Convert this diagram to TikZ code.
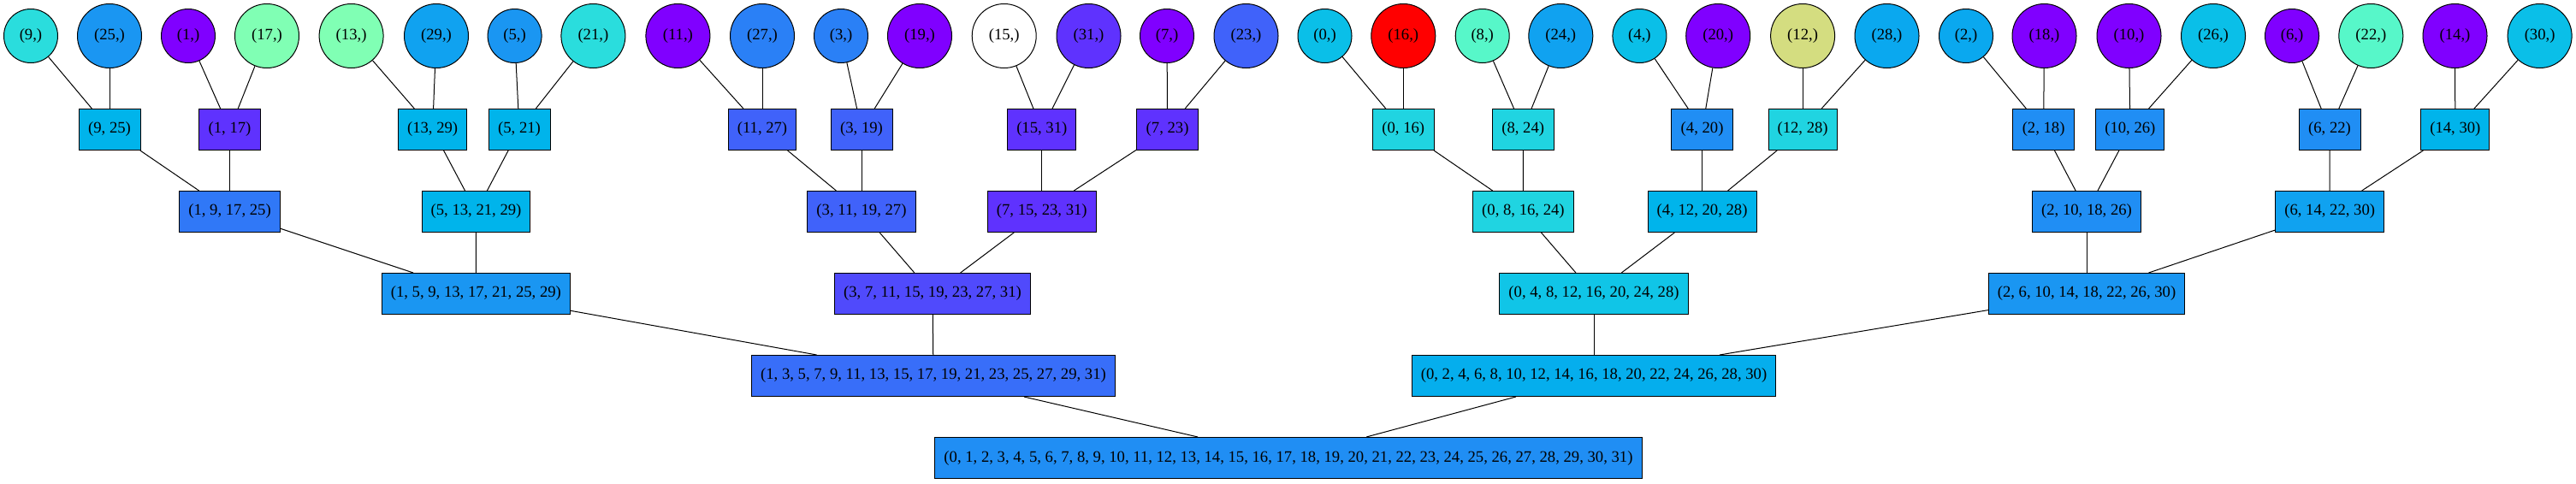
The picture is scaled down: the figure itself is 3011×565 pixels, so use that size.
\documentclass[tikz,border=0pt]{standalone}
\usepackage{fontspec}
\setmainfont{Liberation Serif}
\definecolor{cpur}{HTML}{8000FF}
\definecolor{cA}{HTML}{5F32FE}
\definecolor{cB}{HTML}{504AFC}
\definecolor{cC}{HTML}{4062FA}
\definecolor{cD}{HTML}{386EF9}
\definecolor{cE}{HTML}{3078F7}
\definecolor{cF}{HTML}{2A80F6}
\definecolor{cG}{HTML}{208EF4}
\definecolor{cH}{HTML}{1A96F2}
\definecolor{cI}{HTML}{10A2F0}
\definecolor{cJ}{HTML}{0AA8EF}
\definecolor{cK}{HTML}{05AEED}
\definecolor{cL}{HTML}{00B4EB}
\definecolor{cM}{HTML}{0ABFE8}
\definecolor{cN}{HTML}{10C5E7}
\definecolor{cO}{HTML}{20D4E1}
\definecolor{cP}{HTML}{2ADDDD}
\definecolor{cQ}{HTML}{57F7C9}
\definecolor{cR}{HTML}{80FFB4}
\definecolor{cS}{HTML}{D4DD80}
\definecolor{cred}{HTML}{FF0000}
\tikzset{
  leaf/.style={circle, draw=black, line width=0.75pt, minimum size=47.25pt, inner sep=0pt},
  leafw/.style={leaf, minimum size=56.25pt},
  box/.style={rectangle, draw=black, line width=0.75pt, minimum width=54pt, minimum height=36pt, inner xsep=7.9pt, inner ysep=0pt},
  edge/.style={draw=black, line width=0.75pt}
}
\begin{document}
\begin{tikzpicture}[x=0.75pt, y=-0.75pt, font=\fontsize{14pt}{16pt}\selectfont]
\useasboundingbox (0,0) rectangle (3011,565);
% leaves
\node[leaf, fill=cP] (l9) at (36,42) {(9,)};
\node[leafw, fill=cH] (l25) at (128,42) {(25,)};
\node[leaf, fill=cpur] (l1) at (220,42) {(1,)};
\node[leafw, fill=cR] (l17) at (312,42) {(17,)};
\node[leafw, fill=cR] (l13) at (410.6,42) {(13,)};
\node[leafw, fill=cI] (l29) at (510,42) {(29,)};
\node[leaf, fill=cH] (l5) at (601.6,42) {(5,)};
\node[leafw, fill=cP] (l21) at (693.4,42) {(21,)};
\node[leafw, fill=cpur] (l11) at (792.4,42) {(11,)};
\node[leafw, fill=cF] (l27) at (891,42) {(27,)};
\node[leaf, fill=cF] (l3) at (983,42) {(3,)};
\node[leafw, fill=cpur] (l19) at (1075,42) {(19,)};
\node[leafw, fill=white] (l15) at (1173.7,42) {(15,)};
\node[leafw, fill=cA] (l31) at (1272.5,42) {(31,)};
\node[leaf, fill=cpur] (l7) at (1364,42) {(7,)};
\node[leafw, fill=cC] (l23) at (1456.5,42) {(23,)};
\node[leaf, fill=cM] (l0) at (1548.5,42) {(0,)};
\node[leafw, fill=cred] (l16) at (1640.3,42) {(16,)};
\node[leaf, fill=cQ] (l8) at (1732.7,42) {(8,)};
\node[leafw, fill=cI] (l24) at (1824.3,42) {(24,)};
\node[leaf, fill=cM] (l4) at (1916.4,42) {(4,)};
\node[leafw, fill=cpur] (l20) at (2008.2,42) {(20,)};
\node[leafw, fill=cS] (l12) at (2107.1,42) {(12,)};
\node[leafw, fill=cJ] (l28) at (2205.5,42) {(28,)};
\node[leaf, fill=cJ] (l2) at (2298,42) {(2,)};
\node[leafw, fill=cpur] (l18) at (2389.5,42) {(18,)};
\node[leafw, fill=cpur] (l10) at (2488.5,42) {(10,)};
\node[leafw, fill=cM] (l26) at (2587,42) {(26,)};
\node[leaf, fill=cpur] (l6) at (2679,42) {(6,)};
\node[leafw, fill=cQ] (l22) at (2771.3,42) {(22,)};
\node[leafw, fill=cpur] (l14) at (2869.5,42) {(14,)};
\node[leafw, fill=cM] (l30) at (2968.6,42) {(30,)};
% level 1
\node[box, fill=cL] (a925) at (128,151.5) {(9, 25)};
\node[box, fill=cA] (a117) at (268.5,151.5) {(1, 17)};
\node[box, fill=cL] (a1329) at (505.6,151.5) {(13, 29)};
\node[box, fill=cL] (a521) at (607,151.5) {(5, 21)};
\node[box, fill=cC] (a1127) at (891,151.5) {(11, 27)};
\node[box, fill=cC] (a319) at (1007,151.5) {(3, 19)};
\node[box, fill=cA] (a1531) at (1217.8,151.5) {(15, 31)};
\node[box, fill=cA] (a723) at (1364.6,151.5) {(7, 23)};
\node[box, fill=cO] (a016) at (1640.3,151.5) {(0, 16)};
\node[box, fill=cO] (a824) at (1780.2,151.5) {(8, 24)};
\node[box, fill=cG] (a420) at (1989.6,151.5) {(4, 20)};
\node[box, fill=cO] (a1228) at (2107.1,151.5) {(12, 28)};
\node[box, fill=cG] (a218) at (2388.6,151.5) {(2, 18)};
\node[box, fill=cG] (a1026) at (2489.8,151.5) {(10, 26)};
\node[box, fill=cG] (a622) at (2723,151.5) {(6, 22)};
\node[box, fill=cL] (a1430) at (2869.8,151.5) {(14, 30)};
% level 2
\node[box, fill=cE] (b1) at (268.5,247.5) {(1, 9, 17, 25)};
\node[box, fill=cL] (b5) at (556.5,247.5) {(5, 13, 21, 29)};
\node[box, fill=cC] (b3) at (1007,247.5) {(3, 11, 19, 27)};
\node[box, fill=cA] (b7) at (1217.8,247.5) {(7, 15, 23, 31)};
\node[box, fill=cO] (b0) at (1780.4,247.5) {(0, 8, 16, 24)};
\node[box, fill=cL] (b4) at (1989.6,247.5) {(4, 12, 20, 28)};
\node[box, fill=cG] (b2) at (2439,247.5) {(2, 10, 18, 26)};
\node[box, fill=cI] (b6) at (2723.2,247.5) {(6, 14, 22, 30)};
% level 3
\node[box, fill=cH] (c1) at (556.4,343.5) {(1, 5, 9, 13, 17, 21, 25, 29)};
\node[box, fill=cB] (c3) at (1090,343.5) {(3, 7, 11, 15, 19, 23, 27, 31)};
\node[box, fill=cN] (c0) at (1863,343.5) {(0, 4, 8, 12, 16, 20, 24, 28)};
\node[box, fill=cH] (c2) at (2439,343.5) {(2, 6, 10, 14, 18, 22, 26, 30)};
% level 4
\node[box, fill=cD] (d1) at (1091,439.5) {(1, 3, 5, 7, 9, 11, 13, 15, 17, 19, 21, 23, 25, 27, 29, 31)};
\node[box, fill=cK] (d0) at (1863,439.5) {(0, 2, 4, 6, 8, 10, 12, 14, 16, 18, 20, 22, 24, 26, 28, 30)};
% root
\node[box, fill=cG] (root) at (1506,535.5) {(0, 1, 2, 3, 4, 5, 6, 7, 8, 9, 10, 11, 12, 13, 14, 15, 16, 17, 18, 19, 20, 21, 22, 23, 24, 25, 26, 27, 28, 29, 30, 31)};
% edges
\foreach \p/\c in {l9/a925, l25/a925, l1/a117, l17/a117, l13/a1329, l29/a1329, l5/a521, l21/a521,
  l11/a1127, l27/a1127, l3/a319, l19/a319, l15/a1531, l31/a1531, l7/a723, l23/a723,
  l0/a016, l16/a016, l8/a824, l24/a824, l4/a420, l20/a420, l12/a1228, l28/a1228,
  l2/a218, l18/a218, l10/a1026, l26/a1026, l6/a622, l22/a622, l14/a1430, l30/a1430,
  a925/b1, a117/b1, a1329/b5, a521/b5, a1127/b3, a319/b3, a1531/b7, a723/b7,
  a016/b0, a824/b0, a420/b4, a1228/b4, a218/b2, a1026/b2, a622/b6, a1430/b6,
  b1/c1, b5/c1, b3/c3, b7/c3, b0/c0, b4/c0, b2/c2, b6/c2,
  c1/d1, c3/d1, c0/d0, c2/d0, d1/root, d0/root}
  \draw[edge] (\p) -- (\c);
\end{tikzpicture}
\end{document}
